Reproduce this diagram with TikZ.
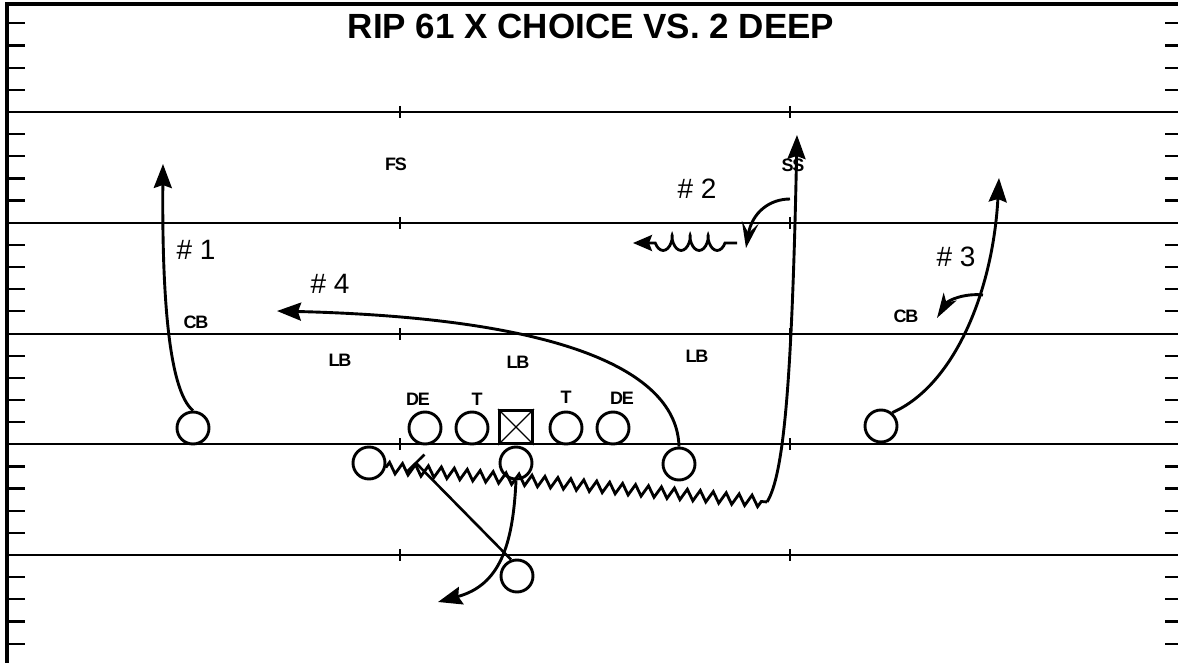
\documentclass[tikz,border=0pt]{standalone}
\usepackage{fontspec}
\setmainfont{Liberation Sans}
\usetikzlibrary{arrows.meta, decorations.pathmorphing, positioning}

\tikzset{
  player/.style={circle, draw, line width=2.9pt, minimum size=32pt, inner sep=0pt},
  snapper/.style={rectangle, draw, line width=2.9pt, minimum size=33pt, inner sep=0pt},
  deflabel/.style={font=\fontsize{18}{18}\selectfont\bfseries\addfontfeature{LetterSpace=-6}, inner sep=0pt},
  readlabel/.style={font=\fontsize{28}{28}\selectfont, inner sep=0pt},
  route/.style={line width=2.9pt, -{Stealth[length=24pt,width=18pt,inset=3pt]}},
  yardline/.style={line width=1.6pt},
  yardtick/.style={line width=2.2pt},
  motion/.style={line width=2.8pt, decorate, decoration={zigzag, segment length=13pt, amplitude=5.5pt}},
  coilroute/.style={line width=2.8pt, decorate,
    decoration={coil, amplitude=7.5pt, segment length=18pt, aspect=0.45, pre length=12pt, post length=14pt},
    -{Stealth[length=19pt,width=16pt,inset=3pt]}},
  block/.style={line width=2.6pt, -{Bar[width=24pt]}}
}

\begin{document}
\begin{tikzpicture}[x=1pt, y=-1pt]
\useasboundingbox (0,0) rectangle (1178,663);
% field
\foreach \y in {112,223,334,444,555} {
  \draw [yardline] (7,\y) -- (1178,\y);
  \draw [yardline] (400,\y-6) -- (400,\y+6);
  \draw [yardline] (790,\y-6) -- (790,\y+6);
}
\foreach \m in {-4,...,24} {
  \pgfmathtruncatemacro{\r}{mod(\m+20,5)}
  \pgfmathsetmacro{\ty}{112+22.15*\m}
  \ifnum\r>0
    \draw [yardtick] (7,\ty) -- (25,\ty);
    \draw [yardtick] (1165,\ty) -- (1178,\ty);
  \fi
}
\draw [line width=3.5pt] (7,663) -- (7,4) -- (1178,4);
\node (title) at (591,26) [font=\fontsize{35}{35}\selectfont\bfseries, inner sep=0pt] {RIP 61 X CHOICE VS. 2 DEEP};

% offense
\node (wrL) at (193,428) [player] {};
\node (lt) at (425,428) [player] {};
\node (lg) at (472,428) [player] {};
\node (ctr) at (516,427) [snapper] {};
\draw [line width=1.4pt] (ctr.north west) -- (ctr.south east) (ctr.north east) -- (ctr.south west);
\node (rg) at (566,428) [player] {};
\node (rt) at (613,428) [player] {};
\node (wrR) at (881,426) [player] {};
\node (slot) at (369,463) [player] {};
\node (qb) at (516,463) [player] {};
\node (te) at (679,464) [player] {};
\node (rb) at (517,576) [player] {};

% defense
\node (fs) at (396,164) [deflabel] {FS};
\node (ss) at (793,165) [deflabel] {SS};
\node (cbL) at (196,322) [deflabel] {CB};
\node (cbR) at (906,316) [deflabel] {CB};
\node (lbL) at (340,360) [deflabel] {LB};
\node (lbM) at (518,362) [deflabel] {LB};
\node (lbR) at (697,356) [deflabel] {LB};
\node (deL) at (418,399) [deflabel] {DE};
\node (tL) at (477,399) [deflabel] {T};
\node (tR) at (566,397) [deflabel] {T};
\node (deR) at (622,398) [deflabel] {DE};

% reads
\node (read1) at (196,250) [readlabel] {\# 1};
\node (read2) at (697,189) [readlabel] {\# 2};
\node (read3) at (956,257) [readlabel] {\# 3};
\node (read4) at (330,284) [readlabel] {\# 4};

% route ends
\coordinate (tip1) at (163,164);
\coordinate (tip3) at (999,178);
\coordinate (tip4) at (277,311);
\coordinate (zzEnd) at (767,502);
\coordinate (ssTip) at (797,135);
\coordinate (curlStart) at (790,199);
\coordinate (curlTip) at (746,248);
\coordinate (coilStart) at (737,243);
\coordinate (coilTip) at (633,243);
\coordinate (cbStart) at (983,295);
\coordinate (cbTip) at (937,318);
\coordinate (qbTip) at (438,602);
\coordinate (blockEnd) at (415,462);

% routes
\draw [route] (wrL.north) .. controls (168,390) and (162,290) .. (tip1);
\draw [route] (te.north) .. controls (677,370) and (560,318) .. (tip4);
\draw [route] (wrR.50) .. controls (955,385) and (993,290) .. (tip3);
\draw [motion] (slot.-15) -- (zzEnd);
\draw [route] (zzEnd) .. controls (784,475) and (792,380) .. (ssTip);
\draw [route, -{Stealth[length=26pt,width=17pt,inset=11pt]}] (curlStart) .. controls (770,199) and (752,212) .. (curlTip);
\draw [coilroute] (coilStart) -- (coilTip);
\draw [route, -{Stealth[length=25pt,width=15pt,inset=7pt]}] (cbStart) .. controls (965,293) and (948,300) .. (cbTip);
\draw [route] (qb.south) .. controls (513,545) and (500,585) .. (qbTip);
\draw [block] (rb.110) -- (blockEnd);
\end{tikzpicture}
\end{document}
